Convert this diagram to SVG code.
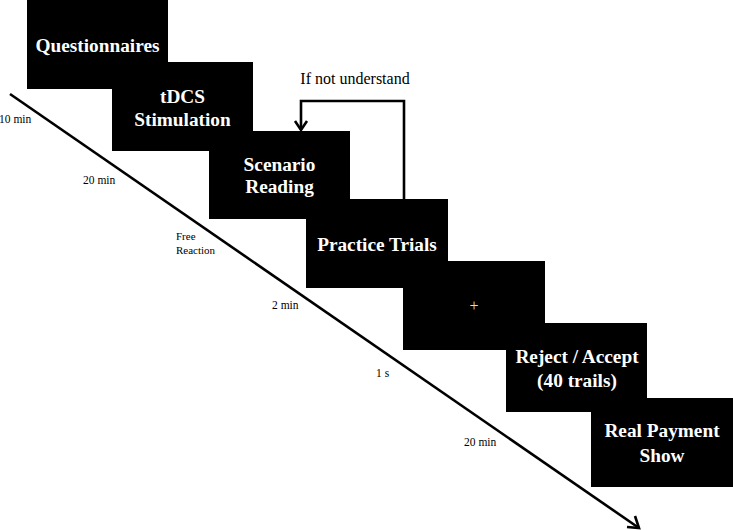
<svg xmlns="http://www.w3.org/2000/svg" width="733" height="530" viewBox="0 0 733 530">
<style>
.box{fill:#000}
.t{font-family:"Liberation Serif","Times New Roman",serif;font-weight:bold;font-size:19.3px;fill:#fff;text-anchor:middle}
.lbl{font-family:"Liberation Serif","Times New Roman",serif;font-size:11.5px;fill:#000}
.ln{fill:none;stroke:#000;stroke-width:2.6}
.ah{fill:none;stroke:#000;stroke-width:2.6}
</style>
<rect width="733" height="530" fill="#fff"/>
<g id="questionnaires"><rect class="box" x="27" y="0" width="141" height="89"/><text class="t" x="97.5" y="52">Questionnaires</text></g>
<g id="tdcs"><rect class="box" x="112" y="62" width="141" height="89"/><text class="t" x="182.5" y="103">tDCS</text><text class="t" x="182.5" y="126">Stimulation</text></g>
<g id="scenario"><rect class="box" x="209" y="131" width="141" height="88"/><text class="t" x="279.5" y="171">Scenario</text><text class="t" x="279.5" y="193">Reading</text></g>
<g id="practice"><rect class="box" x="306" y="199" width="142" height="89"/><text class="t" x="377" y="251">Practice Trials</text></g>
<g id="fixation"><rect class="box" x="403" y="261" width="142" height="89"/><text x="474" y="311" style="font-family:'Liberation Serif',serif;font-size:16px;fill:#dddddd;text-anchor:middle">+</text></g>
<g id="reject"><rect class="box" x="506" y="323" width="141" height="89"/><text class="t" x="577" y="363">Reject / Accept</text><text class="t" x="577" y="387">(40 trails)</text></g>
<g id="payment"><rect class="box" x="591" y="398" width="142" height="89"/><text class="t" x="662" y="437">Real Payment</text><text class="t" x="662" y="462">Show</text></g>
<g id="connectors">
<line class="ln" x1="10" y1="94" x2="639" y2="528"/>
<polyline class="ah" points="627,527 639,528 635,516"/>
<polyline class="ln" points="404,199 404,101 301,101 301,130"/>
<polyline class="ah" points="295,121 301,130 307,121"/>
</g>
<g id="labels">
<text x="355" y="84" style="font-family:'Liberation Serif',serif;font-size:16px;fill:#000;text-anchor:middle">If not understand</text>
<text class="lbl" x="-1" y="123">10 min</text>
<text class="lbl" x="83" y="184">20 min</text>
<text class="lbl" x="176" y="240" style="font-size:11px">Free</text>
<text class="lbl" x="176" y="254" style="font-size:11px">Reaction</text>
<text class="lbl" x="272" y="309">2 min</text>
<text class="lbl" x="376" y="377">1 s</text>
<text class="lbl" x="464" y="446">20 min</text>
</g>
</svg>
